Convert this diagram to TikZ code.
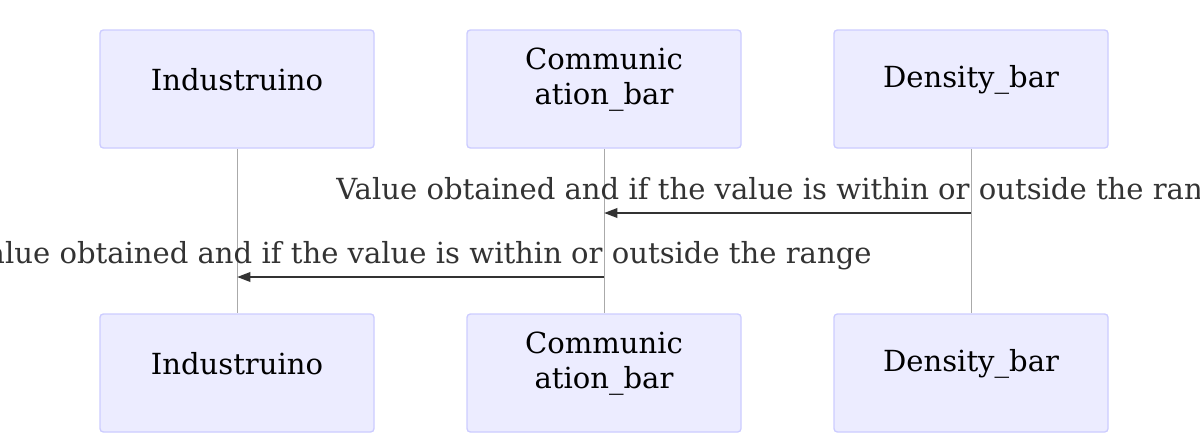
\documentclass[tikz,border=0pt]{standalone}
\usepackage{fontspec}
\setmainfont{DejaVu Serif}
\usepackage{tikz}
\usetikzlibrary{arrows.meta, positioning}

\definecolor{actorfill}{HTML}{ECECFF}
\definecolor{actorline}{HTML}{CCCCFF}
\definecolor{lifeline}{HTML}{AAAAAA}
\definecolor{msgcol}{HTML}{333333}

\tikzset{
    actor/.style={draw=actorline, fill=actorfill, line width=1pt,
        rounded corners=2.5pt, minimum width=205.5pt, minimum height=88.5pt},
    actortext/.style={align=center, font=\fontsize{21.8}{26.5}\selectfont, inner sep=0pt},
    life/.style={draw=lifeline, line width=0.75pt},
    msg/.style={draw=msgcol, line width=1.8pt, -{Triangle[length=10pt,width=7pt]}},
    msgtext/.style={text=msgcol, font=\fontsize{21.8}{26.5}\selectfont, anchor=base,
        inner sep=0pt, yshift=10.5pt},
}

\begin{document}
\begin{tikzpicture}[x=0.75pt, y=-0.75pt]
\clip (0,0) rectangle (1200,446);
\useasboundingbox (0,0) rectangle (1200,446);

% actors, top row
\node[actor] (ind top) at (237,89) {};
\node[actor] (com top) at (604,89) {};
\node[actor] (den top) at (971,89) {};
% actors, bottom row
\node[actor] (ind bot) at (237,373) {};
\node[actor] (com bot) at (604,373) {};
\node[actor] (den bot) at (971,373) {};

\foreach \a/\t in {ind/Industruino, com/Communic\\ation\_bar, den/Density\_bar}{
    \node[actortext] at ([yshift=7pt]\a\space top.center) {\t};
    \node[actortext] at ([yshift=7pt]\a\space bot.center) {\t};
}

% lifelines
\draw[life] (ind top) -- (ind bot);
\draw[life] (com top) -- (com bot);
\draw[life] (den top) -- (den bot);

% messages
\coordinate (den m1) at (den top |- 0,213);
\coordinate (com m1) at (com top |- 0,213);
\coordinate (com m2) at (com top |- 0,277);
\coordinate (ind m2) at (ind top |- 0,277);

\draw[msg] (den m1) -- node[msgtext] {Value obtained and if the value is within or outside the range} (com m1);
\draw[msg] (com m2) -- node[msgtext] {Value obtained and if the value is within or outside the range} (ind m2);
\end{tikzpicture}
\end{document}
